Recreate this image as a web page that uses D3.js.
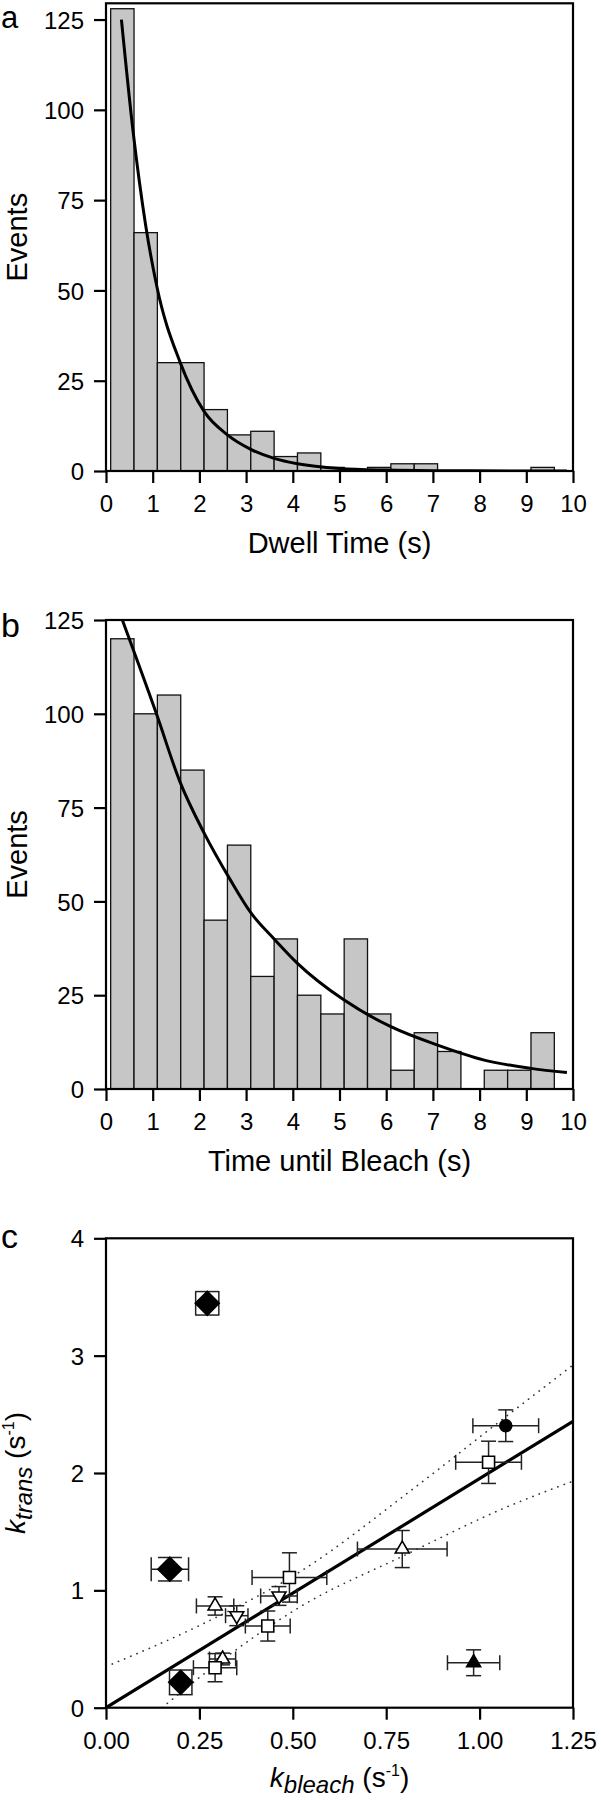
<!DOCTYPE html>
<html><head><meta charset="utf-8">
<script src="https://cdn.jsdelivr.net/npm/d3@7"></script>
<style>
body{margin:0;background:#fff}
svg{display:block}
text{font-family:"Liberation Sans",Arial,Helvetica,sans-serif;fill:#000}
</style>
</head><body>
<svg id="fig" width="601" height="1800"></svg>
<script>
// ---------- data ----------
const binStarts   = [0.1,0.6,1.1,1.6,2.1,2.6,3.1,3.6,4.1,4.6,5.1,5.6,6.1,6.6,7.1,7.6,8.1,8.6,9.1];
const binWidth    = 0.5;
const dwellCounts = [128,66,30,30,17,10,11,4,5,1,0,1,2,2,0,0,0,0,1];
const bleachCounts= [120,100,105,85,45,65,30,40,25,20,40,20,5,15,10,0,5,5,15];
const dwellFit  = [[0.33,125],[0.58,94],[0.85,68],[1.09,51],[1.59,30],[2.1,16.5],[2.6,10],[3.1,6],[3.6,3.5],[4.1,2],[5,0.7],[6,0.25],[7,0.1],[9.87,0]];
const bleachFit = [[0.35,125],[1.08,100],[1.58,82],[2.11,68],[2.65,56],[3.1,47],[3.6,40],[4.1,33.5],[5.1,23.7],[6.1,16.6],[7.1,11.7],[8.1,7.7],[9.1,5.5],[9.87,4.4]];
const histXTicks = [0,1,2,3,4,5,6,7,8,9,10];
const histYTicks = [0,25,50,75,100,125];

const kBleach    = [0.171,0.200,0.271,0.491,0.463,0.292,0.350,0.433,0.312,0.292,0.793,0.984,1.070,1.024];
const kBleachErr = [0.050,0.030,0.031,0.100,0.049,0.050,0.030,0.060,0.035,0.058,0.120,0.070,0.088,0.088];
const kTrans     = [1.18,0.216,3.446,1.11,0.952,0.867,0.784,0.696,0.415,0.341,1.352,0.383,2.403,2.091];
const kTransErr  = [0.10,0.105,0.10,0.21,0.08,0.078,0.085,0.128,0.05,0.12,0.158,0.11,0.135,0.18];
const markerType = ["diamond","diamond","diamond","square","triDown","triUp","triDown","square","triUp","square","triUp","triUpFilled","circleFilled","square"];
const fitLine    = [[0,0],[1.25,2.44]];
const upperBand  = [[0,0.35],[0.25,0.7],[0.52,1.16],[0.82,1.86],[1.05,2.43],[1.25,2.92]];
const lowerBand  = [[0.15,0],[0.3,0.38],[0.52,0.86],[0.8,1.3],[1.08,1.72],[1.25,1.93]];
const cXTicks = [0,0.25,0.5,0.75,1.0,1.25];
const cYTicks = [0,1,2,3,4];

// ---------- drawing ----------
const svg = d3.select("#fig");
const L = 106, R = 573;

function frame(top, bottom){
  svg.append("rect").attr("x",L).attr("y",top).attr("width",R-L).attr("height",bottom-top)
    .attr("fill","none").attr("stroke","#000").attr("stroke-width",2.2);
}
function axes(x, y, bottom, xt, yt, xfmt, yfmt){
  const gx = svg.append("g").attr("transform",`translate(0,${bottom})`)
    .call(d3.axisBottom(x).tickValues(xt).tickSize(12).tickSizeOuter(0).tickFormat(xfmt));
  gx.select(".domain").remove();
  gx.selectAll("line").attr("stroke","#000").attr("stroke-width",2.2);
  gx.selectAll("text").attr("y",41).attr("dy",0).attr("font-size",24).attr("fill","#000")
    .style("font-family",'"Liberation Sans",Arial,sans-serif');
  const gy = svg.append("g").attr("transform",`translate(${L},0)`)
    .call(d3.axisLeft(y).tickValues(yt).tickSize(12).tickSizeOuter(0).tickFormat(yfmt));
  gy.select(".domain").remove();
  gy.selectAll("line").attr("stroke","#000").attr("stroke-width",2.2);
  gy.selectAll("text").attr("x",-22).attr("dy","0.36em").attr("font-size",24).attr("fill","#000")
    .style("font-family",'"Liberation Sans",Arial,sans-serif');
}
function letter(t, yb, fs){
  svg.append("text").attr("x",1).attr("y",yb).attr("font-size",fs).text(t);
}

function histPanel(top, bottom, yMax, counts, fit, title, titleY, lab, labY, labFs){
  const x = d3.scaleLinear().domain([0,10]).range([L,R]);
  const y = d3.scaleLinear().domain([0,yMax]).range([bottom,top]);
  const data = binStarts.map((s,i)=>({s, c:counts[i]})).filter(d=>d.c>0);
  svg.append("g").selectAll("rect").data(data).join("rect")
    .attr("x",d=>x(d.s)).attr("width",d=>x(d.s+binWidth)-x(d.s))
    .attr("y",d=>y(d.c)).attr("height",d=>y(0)-y(d.c))
    .attr("fill","#c6c6c6").attr("stroke","#111").attr("stroke-width",1.3);
  const clipId = "clip"+lab;
  svg.append("clipPath").attr("id",clipId).append("rect")
    .attr("x",L).attr("y",top).attr("width",R-L).attr("height",bottom-top);
  svg.append("path").datum(fit).attr("clip-path",`url(#${clipId})`)
    .attr("d",d3.line().x(d=>x(d[0])).y(d=>y(d[1])).curve(d3.curveMonotoneX))
    .attr("fill","none").attr("stroke","#000").attr("stroke-width",3);
  frame(top,bottom);
  axes(x,y,bottom,histXTicks,histYTicks,d3.format("d"),d3.format("d"));
  svg.append("text").attr("x",(L+R)/2).attr("y",titleY).attr("text-anchor","middle")
    .attr("font-size",29).text(title);
  svg.append("text").attr("transform",`translate(27,${(top+bottom)/2}) rotate(-90)`)
    .attr("text-anchor","middle").attr("font-size",29).text("Events");
  letter(lab, labY, labFs);
}

histPanel(3.3, 471, 129.5, dwellCounts, dwellFit, "Dwell Time (s)", 553, "a", 28.2, 31);
histPanel(620, 1089, 125, bleachCounts, bleachFit, "Time until Bleach (s)", 1171, "b", 637, 34);

// ---------- panel c ----------
(function(){
  const top = 1238.3, bottom = 1707.7;
  const x = d3.scaleLinear().domain([0,1.25]).range([L,R]);
  const y = d3.scaleLinear().domain([0,4]).range([bottom,top]);
  svg.append("clipPath").attr("id","clipc").append("rect")
    .attr("x",L).attr("y",top).attr("width",R-L).attr("height",bottom-top);
  const ln = d3.line().x(d=>x(d[0])).y(d=>y(d[1])).curve(d3.curveMonotoneX);
  const lg = svg.append("g").attr("clip-path","url(#clipc)");
  [upperBand, lowerBand].forEach(b=>{
    lg.append("path").datum(b).attr("d",ln).attr("fill","none")
      .attr("stroke","#333").attr("stroke-width",1.6).attr("stroke-dasharray","0.3,6.4").attr("stroke-linecap","round");
  });
  lg.append("path").datum(fitLine).attr("d",d3.line().x(d=>x(d[0])).y(d=>y(d[1])))
    .attr("fill","none").attr("stroke","#000").attr("stroke-width",3.2);

  const pts = kBleach.map((v,i)=>({x:v, ex:kBleachErr[i], y:kTrans[i], ey:kTransErr[i], m:markerType[i]}));
  const eg = svg.append("g").attr("stroke","#222").attr("stroke-width",1.5).attr("fill","none");
  pts.forEach(p=>{
    const cap = p.m==="diamond" ? 12 : 7.5;
    const cx = x(p.x), cy = y(p.y);
    const x0 = x(p.x-p.ex), x1 = x(p.x+p.ex), y0 = y(p.y-p.ey), y1 = y(p.y+p.ey);
    eg.append("line").attr("x1",x0).attr("x2",x1).attr("y1",cy).attr("y2",cy);
    eg.append("line").attr("x1",cx).attr("x2",cx).attr("y1",y0).attr("y2",y1);
    eg.append("line").attr("x1",x0).attr("x2",x0).attr("y1",cy-cap).attr("y2",cy+cap);
    eg.append("line").attr("x1",x1).attr("x2",x1).attr("y1",cy-cap).attr("y2",cy+cap);
    eg.append("line").attr("x1",cx-cap).attr("x2",cx+cap).attr("y1",y0).attr("y2",y0);
    eg.append("line").attr("x1",cx-cap).attr("x2",cx+cap).attr("y1",y1).attr("y2",y1);
  });
  const mg = svg.append("g");
  pts.forEach(p=>{
    const cx = x(p.x), cy = y(p.y);
    let d, fill="#fff";
    if(p.m==="diamond"){ const h=12; d=`M${cx},${cy-h}L${cx+h},${cy}L${cx},${cy+h}L${cx-h},${cy}Z`; fill="#000"; }
    else if(p.m==="square"){ const h=6; d=`M${cx-h},${cy-h}h${2*h}v${2*h}h${-2*h}Z`; }
    else if(p.m==="triUp"||p.m==="triUpFilled"){ const w=7, hh=12; d=`M${cx},${cy-hh*2/3}L${cx+w},${cy+hh/3}L${cx-w},${cy+hh/3}Z`; if(p.m==="triUpFilled") fill="#000"; }
    else if(p.m==="triDown"){ const w=7, hh=12; d=`M${cx},${cy+hh*2/3}L${cx+w},${cy-hh/3}L${cx-w},${cy-hh/3}Z`; }
    if(p.m==="circleFilled"){
      mg.append("circle").attr("cx",cx).attr("cy",cy).attr("r",6.8).attr("fill","#000");
    } else {
      mg.append("path").attr("d",d).attr("fill",fill).attr("stroke","#000").attr("stroke-width",1.6);
    }
  });

  frame(top,bottom);
  axes(x,y,bottom,cXTicks,cYTicks,d3.format(".2f"),d3.format("d"));

  const xt = svg.append("text").attr("x",(L+R)/2).attr("y",1787).attr("text-anchor","middle").attr("font-size",28);
  xt.append("tspan").attr("font-style","italic").text("k");
  xt.append("tspan").attr("font-style","italic").attr("font-size",24).attr("dy",6).text("bleach");
  xt.append("tspan").attr("dy",-6).text(" (s");
  xt.append("tspan").attr("font-size",16).attr("dy",-11).text("-1");
  xt.append("tspan").attr("dy",11).text(")");

  const yt = svg.append("text").attr("transform",`translate(25,${(top+bottom)/2}) rotate(-90)`)
    .attr("text-anchor","middle").attr("font-size",28);
  yt.append("tspan").attr("font-style","italic").text("k");
  yt.append("tspan").attr("font-style","italic").attr("font-size",24).attr("dy",7).text("trans");
  yt.append("tspan").attr("dy",-7).text(" (s");
  yt.append("tspan").attr("font-size",16).attr("dy",-11).text("-1");
  yt.append("tspan").attr("dy",11).text(")");

  letter("c", 1248, 34);
})();
</script>
</body></html>
